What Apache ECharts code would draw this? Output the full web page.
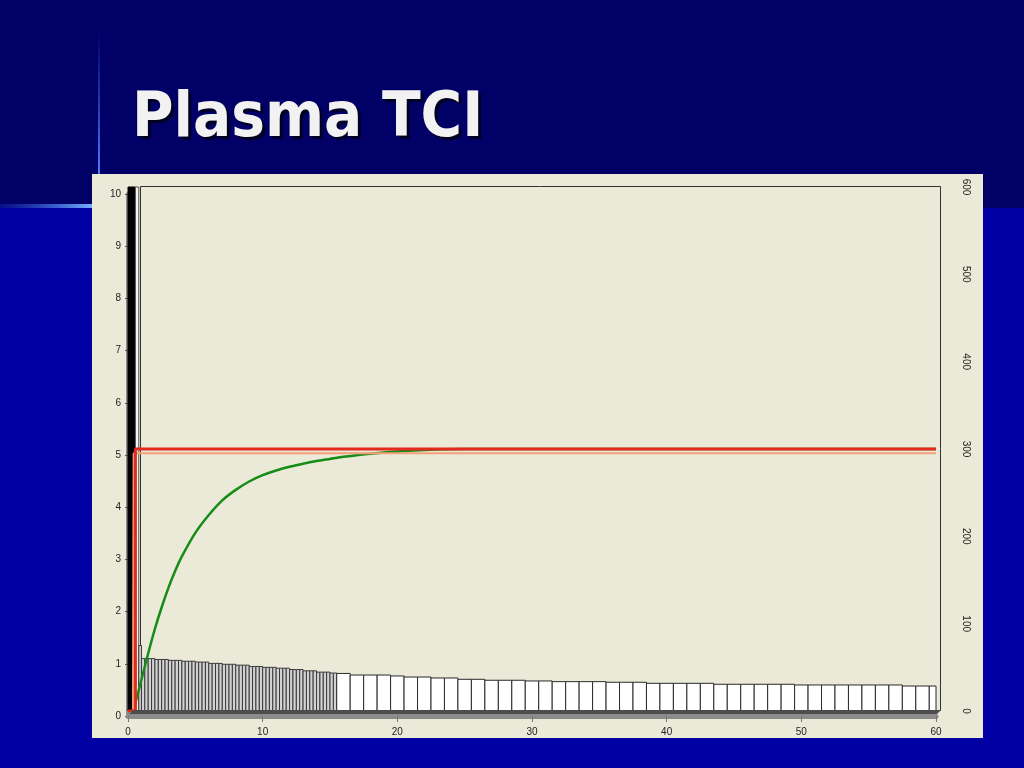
<!DOCTYPE html>
<html><head><meta charset="utf-8">
<script src="https://cdn.jsdelivr.net/npm/echarts/dist/echarts.min.js"></script>
<style>html,body{margin:0;padding:0;background:#0000a0;}#c{width:1024px;height:768px;}</style>
</head><body><div id="c"></div>
<script>
// ---- data ----
const titleText = 'Plasma TCI';

// pump rate bars (right axis, 0-600): start times (min) and rates
const pumpStart = [0, 0.55, 0.8,
  1, 1.25, 1.5, 1.75, 2, 2.25, 2.5, 2.75, 3, 3.25, 3.5, 3.75, 4, 4.25, 4.5, 4.75,
  5, 5.25, 5.5, 5.75, 6, 6.25, 6.5, 6.75, 7, 7.25, 7.5, 7.75, 8, 8.25, 8.5, 8.75,
  9, 9.25, 9.5, 9.75, 10, 10.25, 10.5, 10.75, 11, 11.25, 11.5, 11.75, 12, 12.25, 12.5, 12.75,
  13, 13.25, 13.5, 13.75, 14, 14.25, 14.5, 14.75, 15, 15.25,
  15.5, 16.5, 17.5, 18.5, 19.5, 20.5, 21.5, 22.5, 23.5, 24.5, 25.5, 26.5, 27.5, 28.5, 29.5,
  30.5, 31.5, 32.5, 33.5, 34.5, 35.5, 36.5, 37.5, 38.5, 39.5, 40.5, 41.5, 42.5, 43.5, 44.5,
  45.5, 46.5, 47.5, 48.5, 49.5, 50.5, 51.5, 52.5, 53.5, 54.5, 55.5, 56.5, 57.5, 58.5, 59.5];
const pumpEndLast = 60.5;
const pumpRate = [1200, 1200, 75,
  60, 60, 60, 60, 59, 59, 59, 59, 58, 58, 58, 58, 57, 57, 57, 57,
  56, 56, 56, 56, 54.5, 54.5, 54.5, 54.5, 53.5, 53.5, 53.5, 53.5, 52.5, 52.5, 52.5, 52.5,
  51, 51, 51, 51, 50, 50, 50, 50, 49, 49, 49, 49, 47.5, 47.5, 47.5, 47.5,
  46, 46, 46, 46, 44.5, 44.5, 44.5, 44.5, 43.5, 43.5,
  43, 41.2, 41.2, 41.2, 40.1, 38.9, 38.9, 37.8, 37.8, 36.3, 36.3, 35.2, 35.2, 35.2, 34.4,
  34.4, 33.6, 33.6, 33.6, 33.6, 32.9, 32.9, 32.9, 31.7, 31.7, 31.7, 31.7, 31.7, 30.6, 30.6,
  30.6, 30.6, 30.6, 30.6, 29.8, 29.8, 29.8, 29.8, 29.8, 29.8, 29.8, 29.8, 28.6, 28.6, 28.6];

// target concentration (red)
const targetTime = [0, 0.55, 0.55, 60];
const targetConc = [0, 0, 5, 5];
// plasma concentration (orange)
const plasmaTime = [0.1, 0.37, 0.42, 60];
const plasmaConc = [0, 0, 4.92, 4.92];
// effect-site concentration (green)
const effectTime = [0.4, 0.7, 1, 1.5, 2, 2.5, 3, 3.5, 4, 5, 6, 7, 8, 9, 10, 11, 12, 13, 14, 15, 16, 18, 20, 22, 25, 30, 40, 50, 60];
const effectConc = [0, 0.3, 0.6, 1.1, 1.57, 1.98, 2.35, 2.67, 2.95, 3.4, 3.74, 4.02, 4.22, 4.38, 4.5, 4.59, 4.66, 4.72, 4.77, 4.81, 4.85, 4.91, 4.95, 4.98, 5, 5, 5, 5, 5];

// axes
const xMin = 0, xMax = 60, xStep = 10;
const leftMin = 0, leftMax = 10, leftStep = 1;
const rightMin = 0, rightMax = 600, rightStep = 100;

// ---- build ----
const bars = pumpStart.map((s, i) => [s, i + 1 < pumpStart.length ? pumpStart[i + 1] : pumpEndLast, pumpRate[i]]);
const zip = (a, b) => a.map((v, i) => [v, b[i]]);
const font = '"Liberation Sans", Arial, sans-serif';
const titleFont = 'bold 63px "DejaVu Sans Condensed", "Liberation Sans", sans-serif';

const chart = echarts.init(document.getElementById('c'), null, {renderer: 'canvas'});
chart.setOption({
  animation: false,
  backgroundColor: 'transparent',
  graphic: [
    {type: 'rect', z: -10, shape: {x: 0, y: 0, width: 1024, height: 768}, style: {fill: '#0000a4'}},
    {type: 'rect', z: -9, shape: {x: 0, y: 0, width: 1024, height: 208}, style: {fill: '#000066'}},
    {type: 'rect', z: -8, shape: {x: 98, y: 30, width: 2, height: 144},
      style: {fill: new echarts.graphic.LinearGradient(0, 0, 0, 1, [{offset: 0, color: 'rgba(60,110,255,0)'}, {offset: 1, color: '#4a7dff'}])}},
    {type: 'rect', z: -8, shape: {x: 0, y: 204, width: 94, height: 4},
      style: {fill: new echarts.graphic.LinearGradient(0, 0, 1, 0, [{offset: 0, color: 'rgba(40,80,255,0.2)'}, {offset: 1, color: '#7ab4ff'}])}},
    {type: 'text', z: -7, style: {text: titleText, x: 135, y: 123, font: titleFont, fill: '#000022', verticalAlign: 'middle', textVerticalAlign: 'middle'}},
    {type: 'text', z: -6, style: {text: titleText, x: 132, y: 120, font: titleFont, fill: '#f2f2f2', verticalAlign: 'middle', textVerticalAlign: 'middle'}},
    {type: 'rect', z: -5, shape: {x: 92, y: 174, width: 891, height: 564}, style: {fill: '#ebe9d8'}},
    {type: 'rect', z: -4, shape: {x: 140.5, y: 186.5, width: 800, height: 524}, style: {fill: 'none', stroke: '#333', lineWidth: 1}},
    {type: 'polygon', z: 10, shape: {points: [[128, 715], [133, 710], [941, 710], [936, 715]]}, style: {fill: '#4d4d4d'}}
  ],
  grid: [
    {left: 128, right: 88, top: 194, bottom: 52},
    {left: 128, right: 88, top: 187, bottom: 57}
  ],
  xAxis: [
    {gridIndex: 0, type: 'value', min: xMin, max: xMax, interval: xStep, offset: 2,
      axisLine: {show: true, lineStyle: {color: '#8c8c8c', width: 5}},
      axisTick: {show: true, length: 6, lineStyle: {color: '#777'}},
      axisLabel: {margin: 9, fontSize: 10, color: '#222', fontFamily: font},
      splitLine: {show: false}, z: 11},
    {gridIndex: 1, type: 'value', min: xMin, max: xMax, show: false}
  ],
  yAxis: [
    {gridIndex: 0, type: 'value', min: leftMin, max: leftMax, interval: leftStep, position: 'left', offset: 2,
      axisLine: {show: true, lineStyle: {color: '#8c8c8c', width: 4}},
      axisTick: {show: true, length: 3, lineStyle: {color: '#555'}},
      axisLabel: {margin: 5, fontSize: 10, color: '#222', fontFamily: font},
      splitLine: {show: false}},
    {gridIndex: 1, type: 'value', min: rightMin, max: rightMax, interval: rightStep, position: 'right', offset: 5,
      axisLine: {show: false},
      axisTick: {show: true, length: 4, lineStyle: {color: '#999'}},
      axisLabel: {rotate: -90, margin: 20, fontSize: 10, color: '#222', fontFamily: font},
      splitLine: {show: false}},
    {gridIndex: 1, type: 'value', min: leftMin, max: leftMax, show: false}
  ],
  series: [
    {type: 'custom', xAxisIndex: 1, yAxisIndex: 1, data: bars, encode: {x: [0, 1], y: 2},
      renderItem: function (params, api) {
        const s = api.value(0), e = api.value(1), v = api.value(2);
        const p0 = api.coord([s, v]), p1 = api.coord([e, 0]);
        const cs = params.coordSys;
        const r = echarts.graphic.clipRectByRect(
          {x: p0[0], y: p0[1], width: p1[0] - p0[0], height: p1[1] - p0[1]},
          {x: cs.x, y: cs.y, width: cs.width, height: cs.height});
        if (!r) return;
        const i = params.dataIndex;
        const narrow = (p1[0] - p0[0]) < 6;
        let fill = narrow ? '#d2d2d2' : '#ffffff';
        let stroke = narrow ? '#3a3a3a' : '#2a2a2a';
        if (i === 0) { fill = '#000'; stroke = '#000'; }
        if (i === 1) { fill = '#f4f4f4'; stroke = '#555'; }
        return {type: 'rect', shape: r, style: {fill: fill, stroke: stroke, lineWidth: 1}};
      }},
    {type: 'line', xAxisIndex: 1, yAxisIndex: 2, data: zip(effectTime, effectConc), smooth: 0.25,
      showSymbol: false, symbol: 'none', lineStyle: {color: '#158c15', width: 2.5}},
    {type: 'line', xAxisIndex: 1, yAxisIndex: 2, data: zip(plasmaTime, plasmaConc),
      showSymbol: false, symbol: 'none', lineStyle: {color: '#f4a07a', width: 2}},
    {type: 'line', xAxisIndex: 1, yAxisIndex: 2, data: zip(targetTime, targetConc),
      showSymbol: false, symbol: 'none', lineStyle: {color: '#e42a1c', width: 3}}
  ]
});
</script></body></html>
